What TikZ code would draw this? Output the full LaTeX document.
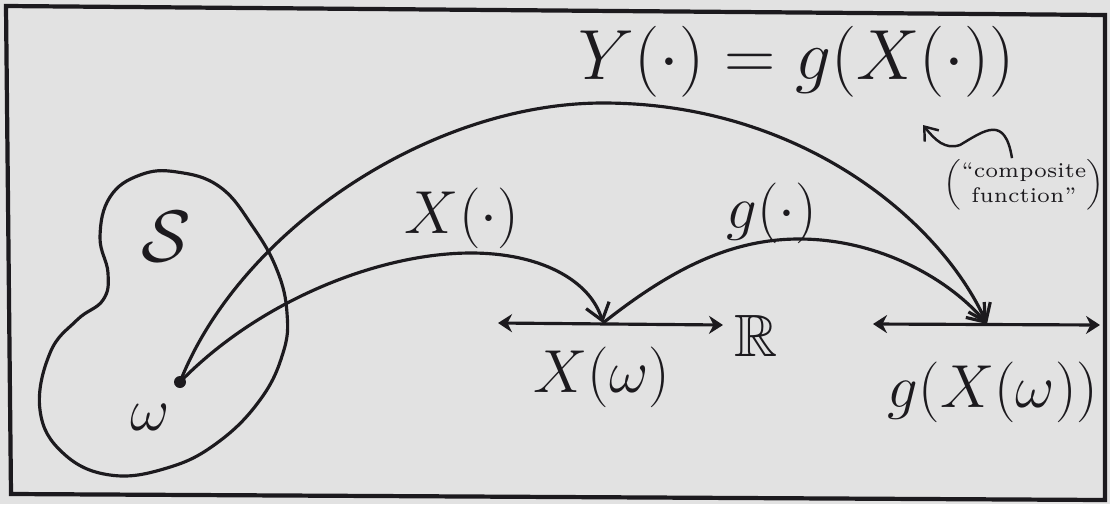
\documentclass[tikz,border=0pt]{standalone}
\usepackage{amsmath,amssymb}
\usepackage{graphicx}
\usepackage{xcolor}
\usetikzlibrary{arrows.meta,calc}
\definecolor{paper}{HTML}{E2E2E2}
\definecolor{ink}{HTML}{1C1A1E}

\begin{document}
\begin{tikzpicture}[x=0.1mm,y=-0.1mm,line width=0.9pt,draw=ink,
  lbl/.style={inner sep=0pt,text=ink,font=\fontsize{17}{20}\selectfont},
  maparrow/.style={-{Straight Barb[length=1.6mm,width=2.4mm]}},
  numline/.style={{Stealth[length=1.4mm,width=1.8mm]}-{Stealth[length=1.4mm,width=1.8mm]}}]
\useasboundingbox (0,0) rectangle (1110,504);
\fill[paper] (0,0) rectangle (1110,504);
% frame of the sheet
\draw[line width=1.2pt] (6,6) -- (1105,15) -- (1105,500) -- (11,494) -- cycle;
% sample space
\draw plot[smooth cycle,tension=0.7] coordinates {(177,172) (220,187) (253,227) (277,270) (287,313) (283,353) (260,400) (217,443) (167,468) (110,475) (63,453) (40,410) (50,353) (77,320) (103,300) (108,273) (100,237) (110,197) (140,175)};
\node[lbl,font=\fontsize{21}{24}\selectfont] (lS) at (166,237) {$\mathcal{S}$};
\fill[ink] (180,382) circle (6);
\coordinate (omega) at (180,382);
\node[lbl] (lw) at (150,417) {$\omega$};
% the two real lines
\coordinate (a1) at (498,323);
\coordinate (a2) at (723,325);
\coordinate (b1) at (873,324);
\coordinate (b2) at (1100,325);
\coordinate (xw) at (603,323);
\coordinate (gx) at (987,324);
\draw[numline] (a1) -- (a2);
\draw[numline] (b1) -- (b2);
\node[lbl] (lR) at (756,336) {$\mathbb{R}$};
\node[lbl] (lXw) at (602,377) {$X(\omega)$};
\node[lbl] (lgXw) at (993,392) {$g(X(\omega))$};
% the maps
\draw[maparrow] (omega) .. controls (260,300) and (380,253) .. (471,253) .. controls (540,253) and (590,280) .. (xw);
\draw[maparrow] (xw) .. controls (670,270) and (730,239) .. (799,239) .. controls (880,239) and (950,280) .. (gx);
\draw[maparrow] (omega) .. controls (240,230) and (430,103) .. (603,103) .. controls (800,103) and (940,220) .. (gx);
\node[lbl] (lX) at (462,218) {$X(\cdot)$};
\node[lbl] (lg) at (772,213) {$g(\cdot)$};
\node[lbl] (title) at (797,62) {\scalebox{1.17}{$Y(\cdot)=g(X(\cdot))$}};
% side remark
\node[lbl,font=\fontsize{6}{7}\selectfont] (comp) at (1024,185) {$\left(\text{\begin{tabular}{@{}c@{}}``composite\\function''\end{tabular}}\right)$};
\coordinate (tip) at (923,125);
\draw[line width=0.7pt,-{Straight Barb[length=1.2mm,width=1.8mm]}] ([xshift=-1.2mm]comp.north) .. controls (1005,115) and (985,130) .. (960,145) .. controls (945,150) and (935,140) .. (tip);
\end{tikzpicture}
\end{document}
